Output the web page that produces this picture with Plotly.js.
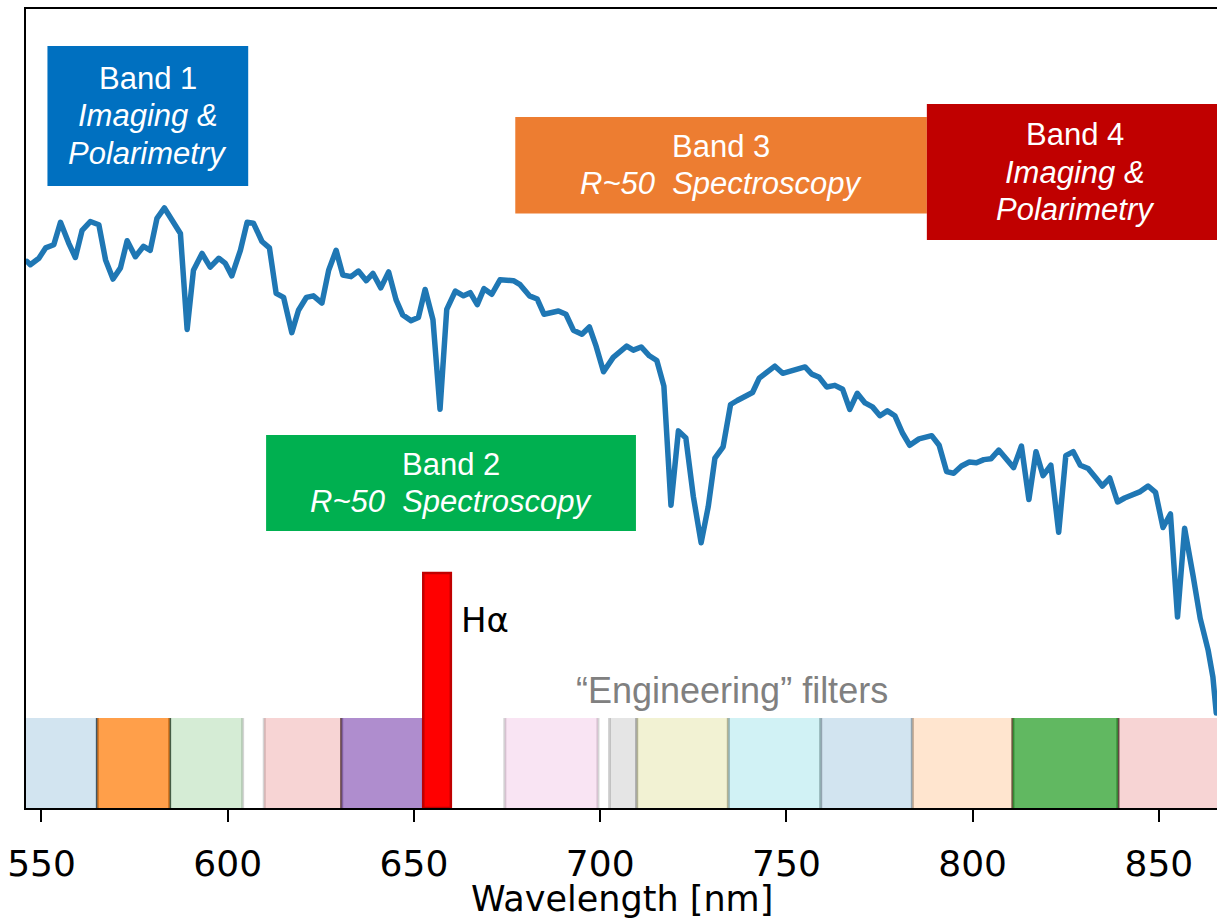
<!DOCTYPE html>
<html>
<head>
<meta charset="utf-8">
<script src="https://cdn.plot.ly/plotly-3.0.1.min.js"></script>
<style>
  html, body { margin: 0; padding: 0; background: #ffffff; }
  #chart { width: 1217px; height: 920px; }
  .scatterlayer .js-line { stroke-linejoin: round; stroke-linecap: round; }
</style>
</head>
<body>
<div id="chart"></div>
<script>
// ---- Spectrum (normalised flux, arbitrary units) ----
const wavelength = [
  546.1, 547.0, 549.3, 551.1, 553.3, 555.1, 557.3, 559.1, 560.9, 563.1,
  565.4, 567.2, 569.2, 571.2, 573.0, 575.2, 577.4, 579.2, 581.0, 583.0,
  587.3, 589.1, 590.8, 593.1, 595.3, 597.6, 599.3, 601.1, 603.4, 605.2,
  606.9, 609.2, 611.2, 613.0, 615.0, 617.2, 619.0, 621.1, 623.0, 625.3,
  627.1, 629.1, 630.9, 633.1, 635.1, 637.2, 639.0, 641.1, 643.2, 645.2,
  647.0, 649.2, 651.2, 653.0, 655.1, 657.0, 658.8, 661.1, 663.3, 665.1,
  667.0, 668.8, 670.9, 673.1, 676.7, 678.5, 681.0, 683.1, 684.9, 688.8,
  690.8, 692.8, 695.1, 697.1, 698.9, 700.9, 703.5, 707.1, 708.9, 711.0,
  713.2, 715.2, 717.1, 719.0, 721.0, 723.0, 725.0, 727.1, 729.0, 730.8,
  733.0, 735.0, 736.8, 738.9, 740.9, 742.7, 744.9, 746.9, 749.0, 755.0,
  756.8, 758.8, 760.8, 763.0, 765.1, 767.0, 769.0, 771.1, 773.1, 775.1,
  777.1, 779.1, 781.2, 783.1, 785.6, 789.0, 791.0, 793.0, 794.9, 797.0,
  799.1, 801.0, 803.0, 804.9, 807.0, 809.1, 811.0, 813.1, 815.1, 817.0,
  818.9, 821.0, 823.1, 825.0, 827.0, 828.9, 831.0, 833.1, 834.8, 836.8,
  838.9, 840.8, 843.1, 845.0, 847.1, 849.1, 851.1, 853.1, 855.0, 856.9,
  859.2, 861.1, 863.2, 864.5, 865.4
];
const flux = [
  0.684, 0.680, 0.688, 0.701, 0.705, 0.733, 0.707, 0.689, 0.723, 0.734,
  0.730, 0.686, 0.662, 0.676, 0.710, 0.690, 0.703, 0.698, 0.738, 0.751,
  0.719, 0.599, 0.673, 0.694, 0.677, 0.688, 0.682, 0.666, 0.698, 0.733,
  0.732, 0.709, 0.701, 0.644, 0.639, 0.595, 0.623, 0.639, 0.641, 0.632,
  0.673, 0.698, 0.667, 0.665, 0.672, 0.660, 0.669, 0.651, 0.671, 0.636,
  0.617, 0.610, 0.614, 0.649, 0.611, 0.499, 0.624, 0.647, 0.641, 0.645,
  0.630, 0.650, 0.643, 0.661, 0.660, 0.655, 0.641, 0.637, 0.618, 0.622,
  0.618, 0.598, 0.593, 0.602, 0.578, 0.546, 0.564, 0.578, 0.573, 0.577,
  0.566, 0.560, 0.528, 0.379, 0.472, 0.463, 0.390, 0.332, 0.377, 0.438,
  0.452, 0.505, 0.510, 0.516, 0.520, 0.538, 0.546, 0.553, 0.544, 0.552,
  0.543, 0.539, 0.527, 0.529, 0.524, 0.499, 0.519, 0.507, 0.502, 0.491,
  0.497, 0.491, 0.469, 0.454, 0.462, 0.466, 0.454, 0.421, 0.419, 0.428,
  0.433, 0.432, 0.436, 0.437, 0.448, 0.436, 0.426, 0.453, 0.386, 0.446,
  0.416, 0.429, 0.345, 0.441, 0.446, 0.429, 0.425, 0.413, 0.403, 0.413,
  0.383, 0.388, 0.392, 0.396, 0.403, 0.395, 0.351, 0.368, 0.239, 0.350,
  0.290, 0.237, 0.198, 0.164, 0.119
];

// ---- "Engineering" filters (nm) ----
const filterStart = [540.0, 565.0, 584.4, 609.8, 630.6, 674.4, 702.5, 709.8, 734.4, 759.2, 783.8, 810.8, 839.0];
const filterEnd   = [565.0, 584.4, 604.0, 630.6, 652.5, 699.4, 709.8, 734.4, 759.2, 783.8, 810.8, 839.0, 870.0];
const filterHeight = 0.1126;
const filterColor = ['#1f77b4', '#ff7f0e', '#2ca02c', '#d62728', '#9467bd', '#e377c2', '#7f7f7f',
                     '#bcbd22', '#17becf', '#1f77b4', '#ff7f0e', '#2ca02c', '#d62728'];
const filterAlpha = [0.2, 0.75, 0.2, 0.2, 0.75, 0.2, 0.2, 0.2, 0.2, 0.2, 0.2, 0.75, 0.2];

// ---- H-alpha filter ----
const haStart = [652.5];
const haEnd = [659.9];
const haHeight = [0.294];

// ---- Instrument bands (boxes) ----
const bandNames = ['Band 1', 'Band 2', 'Band 3', 'Band 4'];
const bandModes = [['Imaging &', 'Polarimetry'], ['R~50\u00a0 Spectroscopy'], ['R~50\u00a0 Spectroscopy'], ['Imaging &', 'Polarimetry']];
const bandX0 = [551.6, 610.3, 677.2, 787.7];
const bandX1 = [605.5, 709.6, 787.7, 867.5];
const bandY0 = [0.7785, 0.3467, 0.7441, 0.7109];
const bandY1 = [0.9537, 0.4668, 0.8648, 0.8811];
const bandColor = ['#0070C0', '#00B050', '#ED7D31', '#C00000'];

const xTitle = 'Wavelength [nm]';

function rgba(hex, a) {
  const r = parseInt(hex.slice(1, 3), 16), g = parseInt(hex.slice(3, 5), 16), b = parseInt(hex.slice(5, 7), 16);
  return 'rgba(' + r + ',' + g + ',' + b + ',' + a + ')';
}

const filterTrace = {
  type: 'bar',
  x: filterStart.map((s, i) => (s + filterEnd[i]) / 2),
  width: filterStart.map((s, i) => filterEnd[i] - s),
  y: filterStart.map(() => filterHeight),
  base: 0,
  marker: {
    color: filterColor.map((c, i) => rgba(c, filterAlpha[i])),
    line: { width: 0 }
  },
  hoverinfo: 'skip',
  showlegend: false
};

const haTrace = {
  type: 'bar',
  x: haStart.map((s, i) => (s + haEnd[i]) / 2),
  width: haStart.map((s, i) => haEnd[i] - s),
  y: haHeight,
  base: 0,
  marker: { color: '#ff0000', line: { color: '#c00000', width: 2.5 } },
  hoverinfo: 'skip',
  showlegend: false
};

const specTrace = {
  type: 'scatter',
  mode: 'lines',
  x: wavelength,
  y: flux,
  line: { color: '#1f77b4', width: 5.5 },
  hoverinfo: 'skip',
  showlegend: false
};

// vertical filter edges (only the sides, as in the figure)
const shapes = [];
filterStart.forEach((s, i) => {
  [s, filterEnd[i]].forEach(xe => {
    shapes.push({
      type: 'line', xref: 'x', yref: 'y', x0: xe, x1: xe, y0: 0, y1: filterHeight,
      line: { color: 'rgba(0,0,0,' + (filterAlpha[i] * 0.85) + ')', width: 3 }, layer: 'below'
    });
  });
});
bandNames.forEach((n, i) => {
  shapes.push({
    type: 'rect', xref: 'x', yref: 'y',
    x0: bandX0[i], x1: bandX1[i], y0: bandY0[i], y1: bandY1[i],
    fillcolor: bandColor[i], line: { width: 0 }, layer: 'above'
  });
});

const boxFont = { family: 'Liberation Sans, Arial, sans-serif', size: 31, color: '#ffffff' };
const annotations = [];
const lineGap = 37.5;
bandNames.forEach((n, i) => {
  const lines = [n].concat(bandModes[i].map(t => '<i>' + t + '</i>'));
  const cx = (bandX0[i] + bandX1[i]) / 2;
  const cy = (bandY0[i] + bandY1[i]) / 2;
  const k = lines.length;
  lines.forEach((t, j) => {
    annotations.push({
      x: cx, y: cy, xref: 'x', yref: 'y',
      text: t, showarrow: false, font: boxFont,
      xanchor: 'center', yanchor: 'middle',
      yshift: ((k - 1) / 2 - j) * lineGap
    });
  });
});
annotations.push({
  x: 662.0, y: 0.235, xref: 'x', yref: 'y', text: 'H\u03b1', showarrow: false,
  xanchor: 'left', yanchor: 'middle',
  font: { family: 'DejaVu Sans, sans-serif', size: 34, color: '#000000' }
});
annotations.push({
  x: 735.4, y: 0.147, xref: 'x', yref: 'y', text: '\u201cEngineering\u201d filters', showarrow: false,
  xanchor: 'center', yanchor: 'middle',
  font: { family: 'Liberation Sans, Arial, sans-serif', size: 36, color: '#808080' }
});
// x-axis title, placed as text below the tick labels
annotations.push({
  x: 0.5, y: 0, xref: 'paper', yref: 'paper', text: xTitle, showarrow: false,
  xanchor: 'center', yanchor: 'middle', yshift: -91,
  font: { family: 'DejaVu Sans, sans-serif', size: 35, color: '#000000' }
});

const layout = {
  width: 1217, height: 920,
  margin: { l: 26, r: 0, t: 9, b: 112 },
  paper_bgcolor: '#ffffff', plot_bgcolor: '#ffffff',
  barmode: 'overlay',
  showlegend: false,
  xaxis: {
    range: [545.84, 865.6],
    tick0: 550, dtick: 50,
    ticks: 'outside', ticklen: 12, tickwidth: 2, tickcolor: '#000000',
    ticklabelstandoff: 11,
    tickfont: { family: 'DejaVu Sans, sans-serif', size: 36, color: '#000000' },
    showline: true, linecolor: '#000000', linewidth: 2, mirror: true,
    showgrid: false, zeroline: false
  },
  yaxis: {
    range: [0, 1],
    showticklabels: false, ticks: '',
    showline: true, linecolor: '#000000', linewidth: 2, mirror: false,
    showgrid: false, zeroline: false
  },
  shapes: shapes,
  annotations: annotations
};

Plotly.newPlot('chart', [filterTrace, haTrace, specTrace], layout, { staticPlot: true, displayModeBar: false });
</script>
</body>
</html>
